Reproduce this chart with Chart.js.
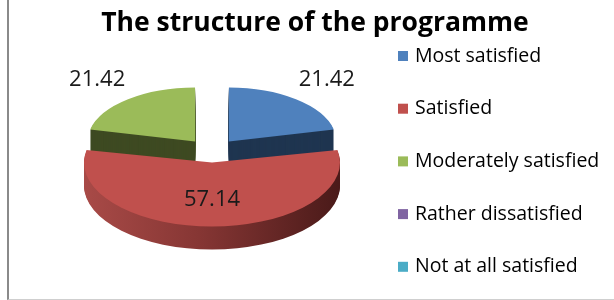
<!DOCTYPE html>
<html><head><meta charset="utf-8">
<script src="https://cdn.jsdelivr.net/npm/chart.js@4/dist/chart.umd.min.js"></script>
<style>
html,body{margin:0;padding:0;background:#fff;}
#wrap{position:relative;width:614px;height:300px;overflow:hidden;background:#fff;}
#frame{position:absolute;left:7px;top:-10px;width:700px;height:310px;border-left:2px solid #8a8a8a;border-bottom:1px solid #cfcfcf;box-sizing:border-box;}
canvas{position:absolute;left:0;top:0;}
</style></head><body>
<div id="wrap"><div id="frame"></div><canvas id="c" width="614" height="300"></canvas></div>
<script>
// ---- data ----
const chartTitle = 'The structure of the programme';
const categories = ['Most satisfied', 'Satisfied', 'Moderately satisfied', 'Rather dissatisfied', 'Not at all satisfied'];
const values = [21.42, 57.14, 21.42, 0, 0];
const valueLabels = ['21.42', '57.14', '21.42', '', ''];

// ---- style ----
const topColors = ['#4F81BD', '#C0504D', '#9BBB59', '#8064A2', '#4BACC6'];
const sideColors = ['#1F3550', null, '#3E4A22', '#4A3A60', '#2A6070'];
const SQUASH = 0.5;
const DEPTH = 23;
const FONT = '"Open Sans", Lato, sans-serif';

function drawArcWith(ctx, arc, fill, dy) {
  const cy = arc.y;
  ctx.save();
  ctx.translate(0, cy + dy);
  ctx.scale(1, SQUASH);
  ctx.translate(0, -cy);
  const o = arc.options;
  const prev = o.backgroundColor;
  o.backgroundColor = fill;
  arc.draw(ctx);
  o.backgroundColor = prev;
  ctx.restore();
}

const pie3d = {
  id: 'pie3d',
  beforeDatasetsDraw(chart) {
    const ctx = chart.ctx;
    const meta = chart.getDatasetMeta(0);
    const list = meta.data.map((a, i) => ({a, i})).filter(o => o.a.circumference > 0);
    list.sort((p, q) => Math.sin((p.a.startAngle + p.a.endAngle) / 2) - Math.sin((q.a.startAngle + q.a.endAngle) / 2));
    list.forEach(({a, i}) => {
      let side = sideColors[i];
      if (!side) {
        const g = ctx.createLinearGradient(a.x - a.outerRadius - 20, 0, a.x + a.outerRadius + 20, 0);
        g.addColorStop(0, '#A84A47');
        g.addColorStop(0.45, '#863634');
        g.addColorStop(1, '#4A1A19');
        side = g;
      }
      for (let d = DEPTH; d >= 1; d--) drawArcWith(ctx, a, side, d);
      drawArcWith(ctx, a, topColors[i], 0);
    });
    return false;
  },
  afterDraw(chart) {
    const ctx = chart.ctx;
    const meta = chart.getDatasetMeta(0);
    ctx.save();
    ctx.font = '22px ' + FONT;
    ctx.fillStyle = '#1a1a1a';
    ctx.textAlign = 'center';
    ctx.textBaseline = 'middle';
    meta.data.forEach((a, i) => {
      if (!(values[i] > 0)) return;
      const mid = (a.startAngle + a.endAngle) / 2;
      const circ = a.endAngle - a.startAngle;
      const off = (a.options.offset || 0) / 4;
      const fix = 1 - Math.sin(Math.min(Math.PI, circ));
      const rEff = a.outerRadius + off * fix;
      const frac = circ / (2 * Math.PI);
      const f = frac > 0.5 ? 0.58 : 1.46;
      const dist = off + rEff * f;
      const px = a.x + Math.cos(mid) * dist;
      const py = a.y + Math.sin(mid) * dist * SQUASH;
      ctx.fillText(valueLabels[i], px, py);
    });
    ctx.restore();
  }
};

const titlePlugin = {
  id: 'topTitle',
  afterDraw(chart) {
    const ctx = chart.ctx;
    ctx.save();
    ctx.font = 'bold 26.5px ' + FONT;
    ctx.fillStyle = '#000';
    ctx.textAlign = 'center';
    ctx.textBaseline = 'alphabetic';
    ctx.fillText(chartTitle, chart.width / 2 + 8, 31);
    ctx.restore();
  }
};

const legendPlugin = {
  id: 'sideLegend',
  afterDraw(chart) {
    const ctx = chart.ctx;
    ctx.save();
    ctx.font = '19.5px ' + FONT;
    ctx.textBaseline = 'middle';
    ctx.textAlign = 'left';
    const x0 = 398, y0 = 56, step = 52.7;
    categories.forEach((c, i) => {
      const y = y0 + i * step;
      ctx.fillStyle = topColors[i];
      ctx.fillRect(x0, y - 5, 10, 10);
      ctx.fillStyle = '#000';
      ctx.fillText(c, x0 + 17, y);
    });
    ctx.restore();
  }
};

new Chart(document.getElementById('c'), {
  type: 'pie',
  data: {
    labels: categories,
    datasets: [{
      data: values,
      backgroundColor: topColors,
      borderWidth: 0,
      offset: [108, 84, 108, 0, 0],
      radius: 107
    }]
  },
  options: {
    responsive: false,
    animation: false,
    layout: {padding: {left: 44, right: 234, top: 26, bottom: 22}},
    plugins: {
      legend: {display: false},
      tooltip: {enabled: false},
      title: {display: false}
    }
  },
  plugins: [pie3d, titlePlugin, legendPlugin]
});
</script>
</body></html>
